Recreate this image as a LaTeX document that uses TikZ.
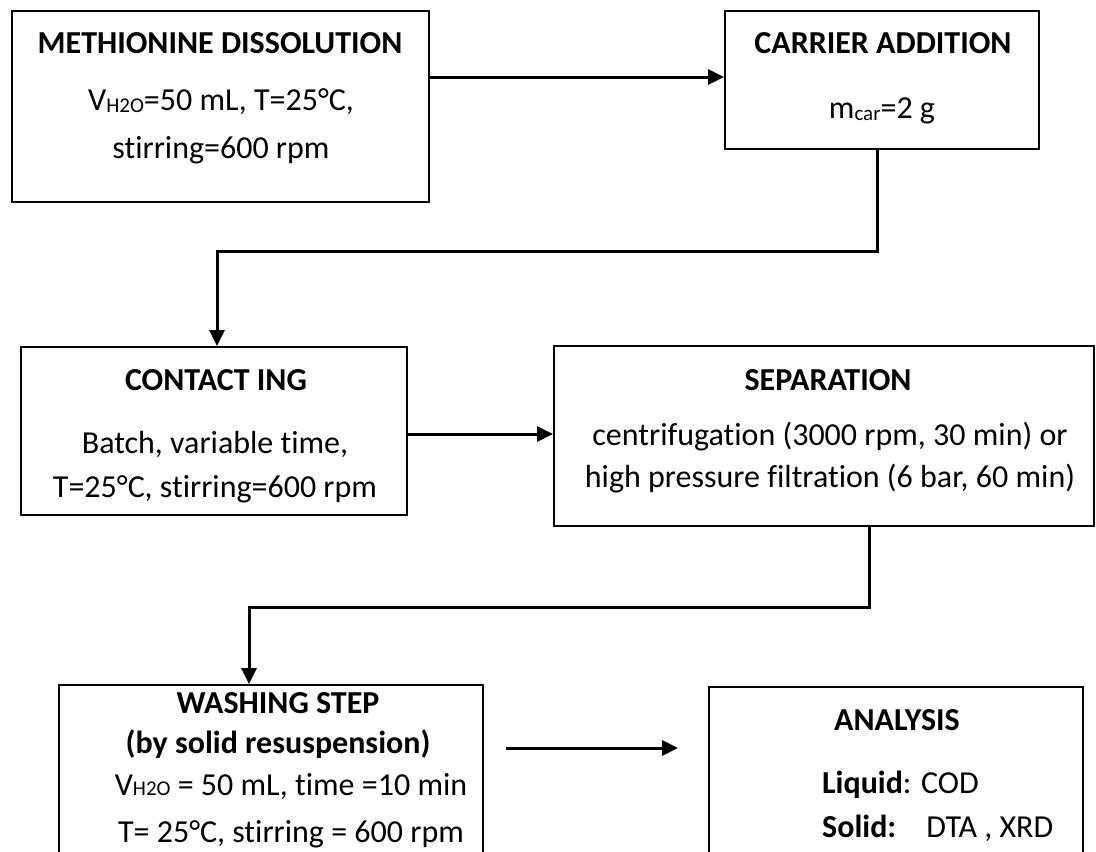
\documentclass[tikz,border=0pt]{standalone}
\usepackage{fontspec}
\setmainfont[Ligatures=NoCommon]{Carlito}
\usetikzlibrary{arrows.meta}

\newcommand{\lowsub}[1]{\raisebox{-2pt}{\fontsize{21}{21}\selectfont #1}}

\begin{document}
\begin{tikzpicture}[
    x=1pt, y=-1pt,
    stepbox/.style={draw, line width=2pt, inner sep=0pt},
    head/.style={font=\fontsize{32}{40}\selectfont\bfseries, inner sep=0pt, anchor=base},
    body/.style={font=\fontsize{32}{#1}\selectfont, inner sep=0pt, anchor=base, align=center},
    flow/.style={line width=3pt, -{Triangle[length=16pt, width=15pt]}}
]
\path[use as bounding box, clip] (0,0) rectangle (1096,852);

% Etapes
\node[stepbox, minimum width=417pt, minimum height=191pt] (dis) at (220.5,106.5) {};
\node[stepbox, minimum width=314pt, minimum height=138pt] (car) at (882,80) {};
\node[stepbox, minimum width=386pt, minimum height=168pt] (con) at (214,431) {};
\node[stepbox, minimum width=540pt, minimum height=180pt] (sep) at (824,436) {};
\node[stepbox, minimum width=424pt, minimum height=195pt] (was) at (271,782.5) {};
\node[stepbox, minimum width=374pt, minimum height=193pt] (ana) at (896,783.5) {};

% Textes (base = derniere ligne)
\node[head] (disH) at (220,53) {METHIONINE DISSOLUTION};
\node[body=48] (disB) at (221,158) {V\lowsub{H2O}=50 mL, T=25°C,\\stirring=600 rpm};

\node[head] (carH) at (883,53) {CARRIER ADDITION};
\node[body=40] (carB) at (882,118) {m\lowsub{car}=2 g};

\node[head] (conH) at (216,390) {CONTACT ING};
\node[body=44] (conB) at (215,497) {Batch, variable time,\\T=25°C, stirring=600 rpm};

\node[head] (sepH) at (828,390) {SEPARATION};
\node[body=42] (sepB) at (830,487) {centrifugation (3000 rpm, 30 min) or\\high pressure filtration (6 bar, 60 min)};

\node[head, align=center] (wasH) at (278,753) {WASHING STEP\\(by solid resuspension)};
\node[body=47] (wasB) at (291,842) {V{\fontsize{21}{21}\selectfont H2O} = 50 mL, time =10 min\\T= 25°C, stirring = 600 rpm};

\node[head] (anaH) at (897,730) {ANALYSIS};
\node[body=44, align=left, anchor=base west] (anaB) at (822,837) {\textbf{Liquid}: COD\\\textbf{Solid:}\hspace{30pt}DTA , XRD};

% Connexions
\path ([yshift=3pt]car.west) coordinate (c0);
\path ([yshift=-3pt]con.east) coordinate (c1);
\coordinate (w1) at (506,748);
\coordinate (a1) at (678,748);
\draw[flow] (c0 -| dis.east) -- (c0);
\draw[flow] ([xshift=-5pt]car.south) -- ++(0,101) -| ([xshift=3pt]con.north);
\draw[flow] (c1) -- (c1 -| sep.west);
\draw[flow] ([xshift=45pt]sep.south) -- ++(0,80) -| ([xshift=-22pt]was.north);
\draw[flow] (w1) -- (a1);

\end{tikzpicture}
\end{document}
